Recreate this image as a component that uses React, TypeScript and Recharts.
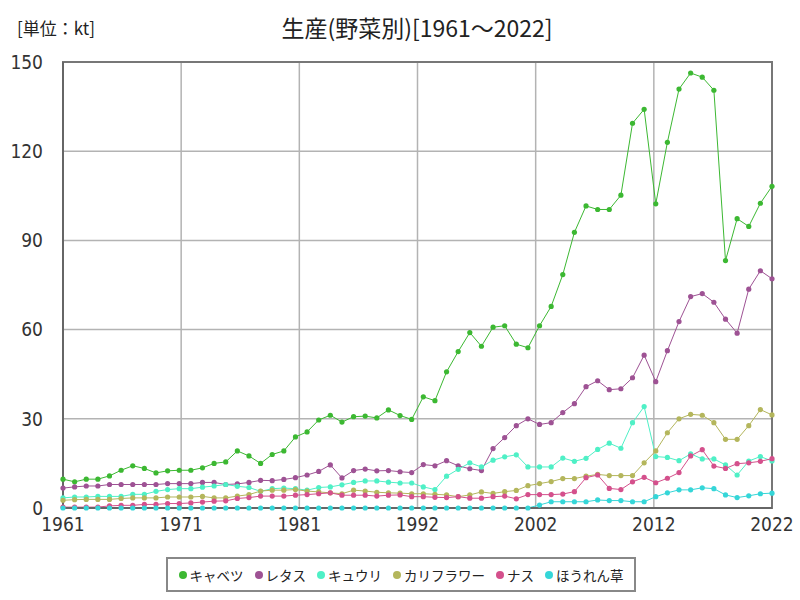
import React from 'react';
import { LineChart, Line, XAxis, YAxis, CartesianGrid, Legend, ReferenceArea } from 'recharts';

const years: number[] = [];
for (let y = 1961; y <= 2022; y++) years.push(y);

const cabbage = [
  9.7, 8.8, 9.7, 9.7, 10.8, 12.7, 14.2, 13.3, 11.8, 12.5,
  12.7, 12.7, 13.5, 15.0, 15.5, 19.2, 17.5, 15.0, 18.0, 19.2,
  23.9, 25.6, 29.6, 31.2, 28.9, 30.7, 30.9, 30.3, 33.0, 31.1,
  29.8, 37.4, 36.1, 45.8, 52.6, 59.0, 54.4, 60.8, 61.3, 55.1,
  53.9, 61.3, 67.8, 78.5, 92.7, 101.6, 100.4, 100.4, 105.2, 129.4,
  134.1, 102.3, 123.0, 140.9, 146.3, 144.9, 140.5, 83.2, 97.3, 94.7,
  102.5, 108.2,
];
const lettuce = [
  6.7, 7.1, 7.4, 7.4, 7.9, 7.9, 7.9, 7.9, 7.9, 8.2,
  8.2, 8.2, 8.6, 8.6, 7.9, 8.1, 8.6, 9.3, 9.2, 9.6,
  10.2, 11.1, 12.3, 14.5, 10.1, 12.6, 13.1, 12.5, 12.6, 12.2,
  11.9, 14.6, 14.2, 15.9, 14.2, 13.2, 12.6, 20.0, 23.7, 27.7,
  30.0, 28.1, 28.7, 32.1, 35.1, 40.8, 42.8, 39.8, 40.1, 43.8,
  51.4, 42.5, 52.9, 62.7, 71.1, 72.1, 69.2, 63.5, 58.8, 73.6,
  79.8, 77.1,
];
const cucumber = [
  3.4, 3.7, 3.7, 3.9, 3.9, 3.9, 4.6, 4.6, 5.6, 6.2,
  6.5, 6.5, 7.0, 7.4, 7.9, 7.3, 6.9, 5.6, 6.5, 6.7,
  6.5, 6.0, 6.9, 7.1, 7.8, 8.6, 9.1, 9.1, 8.7, 8.4,
  8.4, 7.1, 6.2, 10.7, 13.0, 15.2, 13.8, 16.1, 17.2, 17.9,
  13.8, 13.8, 13.8, 16.8, 15.7, 16.7, 19.7, 21.8, 20.1, 28.7,
  34.1, 17.3, 17.0, 15.9, 18.2, 16.5, 16.5, 14.5, 11.1, 15.8,
  17.3, 15.8,
];
const cauliflower = [
  2.6, 2.8, 2.9, 2.9, 2.9, 3.2, 3.4, 3.4, 3.4, 3.7,
  3.7, 3.7, 3.9, 3.4, 3.4, 4.0, 4.5, 5.7, 6.0, 6.0,
  6.2, 5.7, 5.4, 5.1, 4.8, 6.0, 5.7, 5.3, 5.1, 5.0,
  4.8, 4.8, 4.6, 4.4, 3.8, 4.4, 5.4, 4.9, 5.5, 5.9,
  7.5, 8.2, 8.9, 9.9, 9.9, 10.7, 11.3, 10.9, 10.9, 10.9,
  15.2, 19.2, 25.3, 30.0, 31.5, 31.2, 28.7, 23.1, 23.1, 27.7,
  33.1, 31.3,
];
const eggplant = [
  0.3, 0.3, 0.3, 0.3, 0.7, 0.9, 0.9, 1.2, 1.2, 1.5,
  1.5, 1.7, 2.0, 2.3, 2.4, 3.2, 3.5, 4.0, 4.0, 4.0,
  4.3, 4.5, 4.8, 5.1, 4.3, 4.3, 4.3, 4.0, 4.3, 4.4,
  3.8, 3.8, 3.6, 3.5, 3.8, 3.3, 3.3, 3.8, 4.0, 3.1,
  4.5, 4.5, 4.5, 4.7, 5.5, 10.2, 11.1, 6.6, 6.2, 8.8,
  10.3, 8.5, 10.0, 11.9, 17.5, 19.6, 14.1, 13.3, 14.9, 15.2,
  15.7, 16.6,
];
const spinach = [
  0, 0, 0, 0, 0, 0, 0, 0, 0, 0,
  0, 0, 0, 0, 0, 0, 0, 0, 0, 0,
  0, 0, 0, 0, 0, 0, 0, 0, 0, 0,
  0, 0, 0, 0, 0, 0, 0, 0, 0, 0,
  0, 1.0, 2.1, 2.1, 2.1, 2.1, 2.7, 2.5, 2.5, 2.1,
  2.1, 3.8, 5.1, 6.1, 6.1, 6.8, 6.5, 4.4, 3.5, 4.1,
  4.8, 5.0,
];

const seriesNames = ['キャベツ', 'レタス', 'キュウリ', 'カリフラワー', 'ナス', 'ほうれん草'];
const seriesColors = ['#3cb832', '#9e5294', '#4ff0c6', '#b4b65c', '#d4508c', '#35d6d8'];
const seriesValues = [cabbage, lettuce, cucumber, cauliflower, eggplant, spinach];

const xTickLabels = ['1961', '1971', '1981', '1992', '2002', '2012', '2022'];
const yTicks = [0, 30, 60, 90, 120, 150];

const title = '生産(野菜別)[1961～2022]';
const unitLabel = '[単位：kt]';

const data = years.map((year, i) => {
  const row: Record<string, number> = { year };
  seriesNames.forEach((name, s) => {
    row[name] = seriesValues[s][i];
  });
  return row;
});

const xStart = years[0];
const xEnd = years[years.length - 1];
const xTicks = xTickLabels.map((_, i) => xStart + (i * (xEnd - xStart)) / (xTickLabels.length - 1));

const tickFont = "'Liberation Sans Narrow', 'DejaVu Sans Condensed', 'Noto Sans', sans-serif";
const jpFont = "'Noto Sans CJK JP', sans-serif";

const LegendContent = () => (
  <div
    style={{
      boxSizing: 'border-box',
      width: 470,
      height: 35,
      border: '2px solid #888',
      background: '#fff',
      display: 'flex',
      alignItems: 'center',
      justifyContent: 'center',
      fontFamily: jpFont,
      fontSize: 13.5,
      color: '#222',
      whiteSpace: 'nowrap',
    }}
  >
    {seriesNames.map((name, i) => (
      <div
        key={name}
        style={{ display: 'flex', alignItems: 'center', flexShrink: 0, marginRight: i < seriesNames.length - 1 ? 11 : 0 }}
      >
        <span
          style={{
            display: 'inline-block',
            width: 8,
            height: 8,
            borderRadius: '50%',
            background: seriesColors[i],
            marginRight: 3,
          }}
        />
        <span>{name}</span>
      </div>
    ))}
  </div>
);

export default function App() {
  return (
    <div style={{ position: 'absolute', left: 0, top: 0, width: 800, height: 600, background: '#fff' }}>
      <div
        style={{
          position: 'absolute',
          left: 0,
          width: 834,
          top: 11,
          textAlign: 'center',
          fontFamily: jpFont,
          fontSize: 23,
          color: '#222',
          lineHeight: '32px',
        }}
      >
        {title}
      </div>
      <div
        style={{
          position: 'absolute',
          left: 17,
          top: 16,
          fontFamily: jpFont,
          fontSize: 17,
          color: '#222',
          lineHeight: '24px',
        }}
      >
        {unitLabel}
      </div>
      <LineChart width={800} height={600} data={data} margin={{ top: 62, right: 28, bottom: 62, left: 0 }}>
        <CartesianGrid stroke="#b3b3b3" strokeWidth={1.5} />
        <XAxis
          dataKey="year"
          type="number"
          domain={[xStart, xEnd]}
          ticks={xTicks}
          interval={0}
          tickFormatter={(v: number, i: number) => xTickLabels[i] ?? String(Math.round(v))}
          height={30}
          tickSize={0}
          tickMargin={10}
          axisLine={{ stroke: '#666', strokeWidth: 2 }}
          tick={{ fill: '#333', fontSize: 19, fontFamily: tickFont }}
        />
        <YAxis
          type="number"
          domain={[0, 150]}
          ticks={yTicks}
          interval={0}
          width={63}
          tickSize={0}
          tickMargin={20}
          axisLine={{ stroke: '#666', strokeWidth: 2 }}
          tick={{ fill: '#333', fontSize: 19, fontFamily: tickFont }}
        />
        <ReferenceArea x1={xStart} x2={xEnd} y1={0} y2={150} fill="none" stroke="#777" strokeWidth={2} />
        {seriesNames.map((name, i) => (
          <Line
            key={name}
            type="linear"
            dataKey={name}
            stroke={seriesColors[i]}
            strokeWidth={1}
            dot={{ r: 2.6, fill: seriesColors[i], stroke: 'none' }}
            activeDot={false}
            isAnimationActive={false}
          />
        ))}
        <Legend
          layout="horizontal"
          verticalAlign="middle"
          align="center"
          content={<LegendContent />}
          wrapperStyle={{ position: 'absolute', left: 166, top: 557, width: 470, height: 35 }}
        />
      </LineChart>
    </div>
  );
}
